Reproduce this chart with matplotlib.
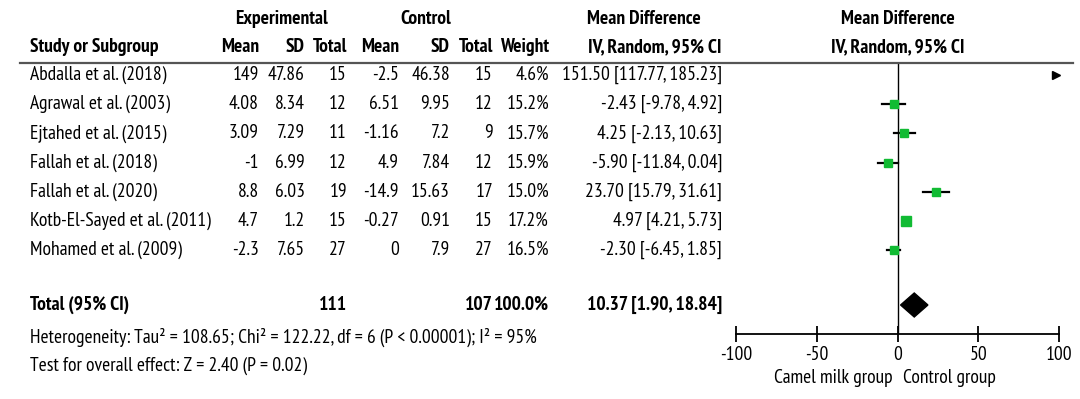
import matplotlib
matplotlib.use("Agg")
import matplotlib.pyplot as plt

plt.rcParams['font.family'] = ['PT Sans Narrow', 'Roboto Condensed', 'Archivo Narrow',
                               'Liberation Sans', 'DejaVu Sans']

studies = ["Abdalla et al. (2018)", "Agrawal et al. (2003)", "Ejtahed et al. (2015)",
           "Fallah et al. (2018)", "Fallah et al. (2020)", "Kotb-El-Sayed et al. (2011)",
           "Mohamed et al. (2009)"]
exp_mean = ["149", "4.08", "3.09", "-1", "8.8", "4.7", "-2.3"]
exp_sd = ["47.86", "8.34", "7.29", "6.99", "6.03", "1.2", "7.65"]
exp_n = [15, 12, 11, 12, 19, 15, 27]
ctl_mean = ["-2.5", "6.51", "-1.16", "4.9", "-14.9", "-0.27", "0"]
ctl_sd = ["46.38", "9.95", "7.2", "7.84", "15.63", "0.91", "7.9"]
ctl_n = [15, 12, 9, 12, 17, 15, 27]
weights = [4.6, 15.2, 15.7, 15.9, 15.0, 17.2, 16.5]
md = [151.50, -2.43, 4.25, -5.90, 23.70, 4.97, -2.30]
ci_lo = [117.77, -9.78, -2.13, -11.84, 15.79, 4.21, -6.45]
ci_hi = [185.23, 4.92, 10.63, 0.04, 31.61, 5.73, 1.85]

total_md, total_lo, total_hi = 10.37, 1.90, 18.84
total_exp, total_ctl = 111, 107
xticks = [-100, -50, 0, 50, 100]

W, H = 1080, 399
FS = 14
fig = plt.figure(figsize=(W / 100, H / 100), dpi=100)


def put(x, y, s, ha='left', bold=False, size=FS):
    fig.text(x / W, 1 - y / H, s, ha=ha, va='center', fontsize=size,
             fontweight='bold' if bold else 'normal')


# headers
put(282, 19, "Experimental", ha='center', bold=True)
put(426, 19, "Control", ha='center', bold=True)
put(644, 19, "Mean Difference", ha='center', bold=True)
put(898, 19, "Mean Difference", ha='center', bold=True)
put(30, 47, "Study or Subgroup", bold=True)
cols = [259, 305, 347, 399, 450, 493, 549]
for x, s in zip(cols, ["Mean", "SD", "Total", "Mean", "SD", "Total", "Weight"]):
    put(x, 47, s, ha='right', bold=True)
put(722, 47, "IV, Random, 95% CI", ha='right', bold=True)
put(898, 47, "IV, Random, 95% CI", ha='center', bold=True)
fig.add_artist(plt.Line2D([20 / W, 1073 / W], [1 - 63 / H, 1 - 63 / H],
                          color='#555555', lw=1.6))

# study rows
row_y = [75 + 29.2 * i for i in range(len(studies))]
for i, y in enumerate(row_y):
    put(30, y, studies[i])
    vals = [exp_mean[i], exp_sd[i], exp_n[i], ctl_mean[i], ctl_sd[i], ctl_n[i],
            f"{weights[i]:.1f}%"]
    for x, v in zip(cols, vals):
        put(x, y, str(v), ha='right')
    put(722, y, f"{md[i]:.2f} [{ci_lo[i]:.2f}, {ci_hi[i]:.2f}]", ha='right')

# total
put(30, 305, "Total (95% CI)", bold=True)
put(347, 305, str(total_exp), ha='right', bold=True)
put(493, 305, str(total_ctl), ha='right', bold=True)
put(549, 305, "100.0%", ha='right', bold=True)
put(722, 305, f"{total_md:.2f} [{total_lo:.2f}, {total_hi:.2f}]", ha='right', bold=True)
put(30, 337, "Heterogeneity: Tau² = 108.65; Chi² = 122.22, df = 6 (P < 0.00001); I² = 95%")
put(30, 366, "Test for overall effect: Z = 2.40 (P = 0.02)")

# forest panel
ax_top, ax_bot = 63, 334
ax = fig.add_axes([736 / W, 1 - ax_bot / H, (1059 - 736) / W, (ax_bot - ax_top) / H])
ax.set_xlim(-100, 100)
ax.set_ylim(ax_bot, ax_top)
for sp in ['top', 'left', 'right']:
    ax.spines[sp].set_visible(False)
ax.spines['bottom'].set_linewidth(1.3)
ax.set_yticks([])
ax.set_xticks(xticks)
ax.set_xticklabels([str(t) for t in xticks], fontsize=FS)
ax.tick_params(axis='x', direction='inout', length=12, width=1.3, pad=3)
ax.axvline(0, color='black', lw=1.0)
ax.patch.set_alpha(0)

for i, y in enumerate(row_y):
    if ci_lo[i] > 100:
        ax.plot([98], [y], marker='>', color='black', ms=6, clip_on=False)
        continue
    ax.plot([ci_lo[i], ci_hi[i]], [y, y], color='black', lw=1.6, zorder=2)
    ax.plot([md[i]], [y], marker='s', color='#11bb33', ms=0.38 * weights[i],
            mec='#11bb33', zorder=3)

ax.fill([total_lo, total_md, total_hi, total_md], [305, 293, 305, 317],
        color='black', zorder=3)

put(893, 378, "Camel milk group", ha='right')
put(903, 378, "Control group")

fig.savefig("out.png", dpi=100)
